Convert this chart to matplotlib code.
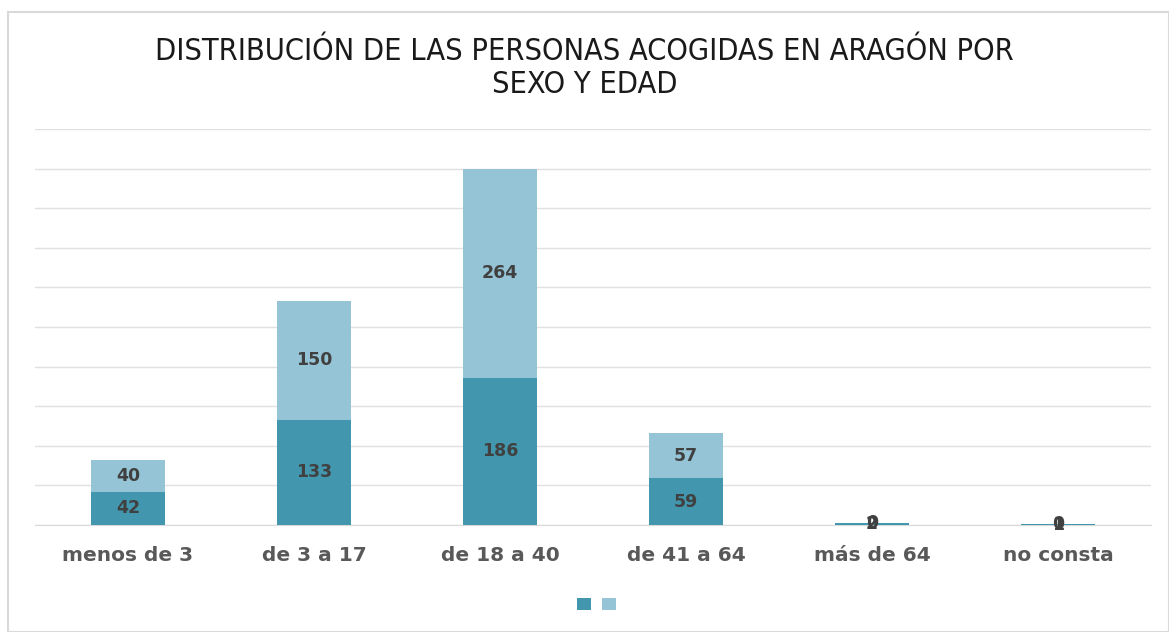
import matplotlib.pyplot as plt
from matplotlib.patches import Rectangle
import numpy as np

categorias = ["menos de 3", "de 3 a 17", "de 18 a 40", "de 41 a 64", "más de 64", "no consta"]
serie_oscura = [42, 133, 186, 59, 2, 1]
serie_clara = [40, 150, 264, 57, 0, 0]

color_oscuro = "#4297ae"
color_claro = "#94c4d5"

fig = plt.figure(figsize=(11.69, 6.32), dpi=100)
# marco gris del grafico
fig.patches.append(Rectangle((8 / 1169, 0), 1 - 8 / 1169, 1 - 12 / 632,
                             transform=fig.transFigure, fill=False,
                             edgecolor="#d9d9d9", linewidth=1.5))

ax = fig.add_axes([35 / 1169, 1 - 525 / 632, 1116 / 1169, (525 - 129) / 632])
x = np.arange(len(categorias))
b1 = ax.bar(x, serie_oscura, width=0.40, color=color_oscuro, zorder=3)
b2 = ax.bar(x, serie_clara, width=0.40, bottom=serie_oscura, color=color_claro, zorder=3)

for i in range(len(categorias)):
    ax.text(x[i], serie_oscura[i] / 2, str(serie_oscura[i]), ha="center", va="center",
            fontsize=12.5, fontweight="semibold", color="#404040", zorder=4)
    ax.text(x[i], serie_oscura[i] + serie_clara[i] / 2, str(serie_clara[i]), ha="center",
            va="center", fontsize=12.5, fontweight="semibold", color="#404040", zorder=4)

ax.set_xlim(-0.5, len(categorias) - 0.5)
ax.set_ylim(0, 500)
ax.set_yticks(np.arange(0, 501, 50))
ax.yaxis.grid(True, color="#e0e0e0", linewidth=1, zorder=0)
ax.tick_params(axis="y", left=False, labelleft=False)
ax.tick_params(axis="x", length=0, pad=15)
ax.set_xticks(x)
ax.set_xticklabels(categorias, fontsize=14.5, fontweight="bold", color="#595959")
for s in ["top", "right", "left"]:
    ax.spines[s].set_visible(False)
ax.spines["bottom"].set_color("#d9d9d9")

fig.text(0.5, 1 - 68 / 632, "DISTRIBUCIÓN DE LAS PERSONAS ACOGIDAS EN ARAGÓN POR\nSEXO Y EDAD",
         ha="center", va="center", fontsize=22, color="#1a1a1a", linespacing=1.15,
         fontstretch="condensed")

leg = fig.legend(handles=[b1, b2], labels=["", ""], loc="center",
                 bbox_to_anchor=(598 / 1169, 1 - 605 / 632), ncol=2, frameon=False,
                 handlelength=1.0, handleheight=1.0, columnspacing=0.6, handletextpad=0.2)

fig.savefig("out.png", dpi=100)
